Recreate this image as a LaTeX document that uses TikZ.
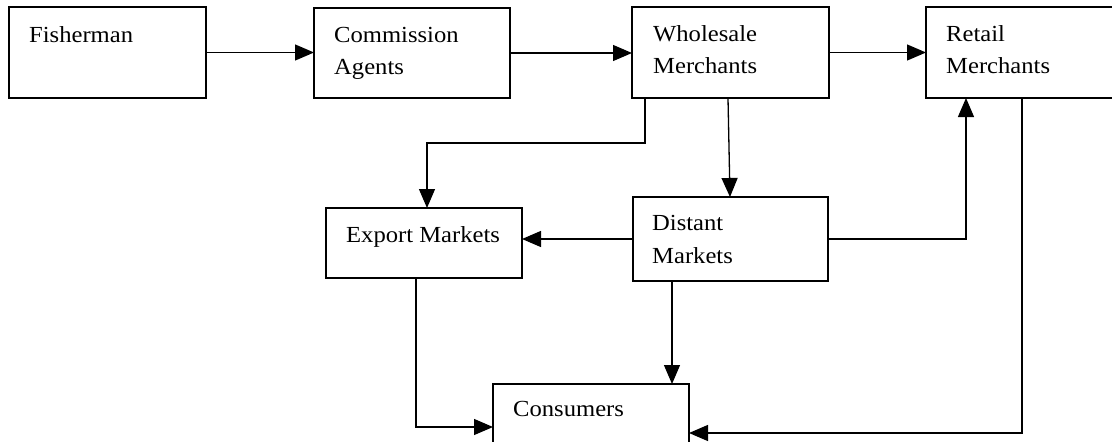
\documentclass[tikz,border=0pt]{standalone}
\usepackage{fontspec}
\setmainfont{Liberation Serif}[FakeStretch=1.07]
\usetikzlibrary{arrows.meta}
\begin{document}
\begin{tikzpicture}[x=1pt,y=-1pt,
  box/.style={draw, line width=1.4pt, inner sep=0pt, outer sep=0pt},
  lbl/.style={anchor=base west, inner sep=0pt, font=\fontsize{23}{28}\selectfont},
  arr/.style={line width=1.3pt, -{Triangle[length=19pt,width=16pt]}}]
\clip (0,0) rectangle (1112,442);
% boxes
\node[box, minimum width=197pt, minimum height=91pt] (fish) at (107.5,52.5) {};
\node[box, minimum width=196pt, minimum height=90pt] (comm) at (412,53) {};
\node[box, minimum width=197pt, minimum height=91pt] (whole) at (730.5,52.5) {};
\node[box, minimum width=196pt, minimum height=91pt] (retail) at (1024,52.5) {};
\node[box, minimum width=196pt, minimum height=70pt] (export) at (424,243) {};
\node[box, minimum width=195pt, minimum height=84pt] (distant) at (730.5,239) {};
\node[box, minimum width=196pt, minimum height=86pt] (cons) at (591,427) {};
% labels
\node[lbl] (tfish) at (29,42) {Fisherman};
\node[lbl] (tcomm1) at (334,42) {Commission};
\node[lbl] (tcomm2) at (334,74) {Agents};
\node[lbl] (twhole1) at (653,41) {Wholesale};
\node[lbl] (twhole2) at (653,73) {Merchants};
\node[lbl] (tretail1) at (946,41) {Retail};
\node[lbl] (tretail2) at (946,73) {Merchants};
\node[lbl] (texport) at (346,242) {Export Markets};
\node[lbl] (tdist1) at (652,230) {Distant};
\node[lbl] (tdist2) at (652,263) {Markets};
\node[lbl] (tcons) at (513,416) {Consumers};
% connectors
\draw[arr] (fish.east) -- (fish.east -| comm.west);
\draw[arr] (comm.east) -- (comm.east -| whole.west);
\draw[arr] (whole.east) -- (whole.east -| retail.west);
\draw[arr] ([xshift=-85.5pt]whole.south) -- ++(0,45) -| ([xshift=3pt]export.north);
\draw[arr] ([xshift=-2.5pt]whole.south) -- ([xshift=-0.5pt]distant.north);
\draw[arr] (distant.west) -- (distant.west -| export.east);
\draw[arr] (distant.east) -| ([xshift=-58pt]retail.south);
\draw[arr] ([xshift=-58.5pt]distant.south) -- ([xshift=-58.5pt]distant.south |- cons.north);
\draw[arr] ([xshift=-8pt]export.south) |- (cons.west);
\draw[arr] ([xshift=-2pt]retail.south) |- ([yshift=-6pt]cons.east);
\end{tikzpicture}
\end{document}
